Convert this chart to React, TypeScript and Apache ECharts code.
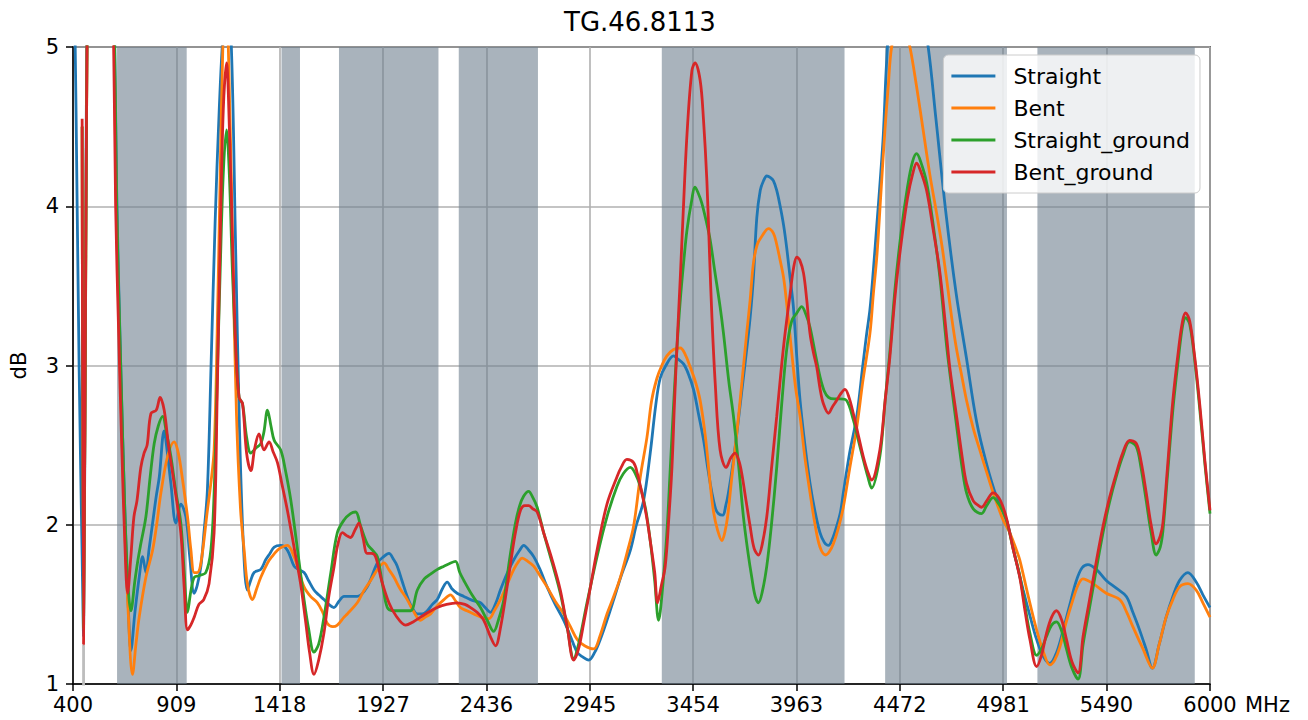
import React, { useEffect, useRef } from 'react';
import * as echarts from 'echarts';

const titleText = 'TG.46.8113';
const seriesNames = ['Straight', 'Bent', 'Straight_ground', 'Bent_ground'];
const seriesColors = ['#1f77b4', '#ff7f0e', '#2ca02c', '#d62728'];
const xTicks = [400, 909, 1418, 1927, 2436, 2945, 3454, 3963, 4472, 4981, 5490, 6000];
const bands = [[617, 960], [1427, 1518], [1710, 2200], [2300, 2690], [3300, 4200], [4400, 5000], [5150, 5925]];
const stubData = [[452, 1.25], [452, 0.8]];

const straight = [[400,6.0],[415,4.6],[430,3.0],[445,1.8],[452,1.3],[460,3.0],[470,5.5],[490,7.0],[560,7.5],[600,5.5],[615,4.1],[635,3.0],[655,2.1],[672,1.5],[685,1.21],[705,1.45],[726,1.67],[743,1.80],[759,1.70],[775,1.85],[792,2.01],[810,2.18],[825,2.30],[849,2.59],[865,2.45],[882,2.26],[907,2.01],[931,2.13],[956,2.05],[975,1.80],[997,1.57],[1012,1.62],[1030,1.74],[1045,1.95],[1062,2.22],[1080,3.0],[1100,3.9],[1120,4.6],[1140,5.1],[1160,5.3],[1180,5.0],[1200,3.8],[1220,2.6],[1240,1.85],[1259,1.59],[1275,1.65],[1292,1.70],[1325,1.72],[1349,1.78],[1370,1.82],[1391,1.86],[1423,1.87],[1456,1.84],[1489,1.74],[1510,1.72],[1538,1.70],[1560,1.65],[1587,1.59],[1610,1.56],[1636,1.53],[1660,1.50],[1685,1.48],[1710,1.52],[1735,1.55],[1767,1.55],[1800,1.55],[1849,1.61],[1899,1.76],[1930,1.80],[1956,1.82],[1980,1.78],[1997,1.74],[2020,1.65],[2046,1.55],[2070,1.48],[2096,1.44],[2120,1.44],[2145,1.46],[2170,1.50],[2194,1.53],[2220,1.60],[2243,1.64],[2265,1.60],[2292,1.57],[2325,1.55],[2358,1.53],[2380,1.52],[2407,1.51],[2430,1.48],[2456,1.45],[2480,1.50],[2505,1.59],[2540,1.70],[2571,1.78],[2600,1.84],[2620,1.87],[2645,1.84],[2669,1.80],[2700,1.72],[2735,1.61],[2775,1.50],[2817,1.40],[2850,1.30],[2883,1.20],[2910,1.17],[2940,1.15],[2970,1.20],[2997,1.28],[3030,1.40],[3063,1.53],[3100,1.68],[3145,1.84],[3175,2.0],[3210,2.15],[3243,2.45],[3270,2.75],[3292,2.92],[3320,3.0],[3358,3.06],[3380,3.04],[3407,3.01],[3430,2.95],[3456,2.85],[3480,2.70],[3506,2.53],[3527,2.35],[3547,2.20],[3565,2.10],[3579,2.07],[3600,2.06],[3615,2.12],[3628,2.20],[3650,2.38],[3669,2.57],[3695,2.85],[3718,3.10],[3735,3.30],[3751,3.55],[3768,3.93],[3785,4.10],[3801,4.16],[3817,4.19],[3835,4.18],[3850,4.16],[3866,4.10],[3883,4.00],[3900,3.88],[3915,3.74],[3932,3.55],[3948,3.37],[3965,3.05],[3981,2.78],[4005,2.50],[4030,2.26],[4055,2.08],[4079,1.95],[4100,1.89],[4121,1.87],[4140,1.91],[4161,1.99],[4180,2.08],[4194,2.20],[4225,2.45],[4260,2.68],[4290,3.0],[4309,3.2],[4325,3.35],[4342,3.6],[4360,3.9],[4375,4.15],[4391,4.45],[4407,4.9],[4430,5.3],[4470,5.5],[4520,5.5],[4570,5.3],[4612,5.0],[4650,4.55],[4700,3.95],[4750,3.45],[4800,3.05],[4850,2.65],[4900,2.38],[4950,2.17],[5000,2.02],[5040,1.80],[5080,1.59],[5115,1.42],[5146,1.28],[5180,1.17],[5211,1.13],[5245,1.20],[5277,1.34],[5310,1.50],[5342,1.65],[5370,1.73],[5399,1.75],[5440,1.72],[5489,1.65],[5540,1.60],[5588,1.55],[5620,1.45],[5653,1.34],[5685,1.22],[5716,1.10],[5750,1.25],[5784,1.42],[5817,1.55],[5850,1.65],[5891,1.70],[5932,1.64],[5965,1.56],[6000,1.48]];

const bent = [[445,4.5],[452,1.35],[462,3.4],[472,5.5],[490,7.0],[560,7.5],[598,5.5],[612,4.1],[632,3.0],[652,2.1],[672,1.45],[693,1.06],[710,1.25],[726,1.42],[759,1.67],[792,1.84],[812,2.0],[833,2.20],[866,2.43],[898,2.52],[915,2.47],[931,2.36],[964,2.05],[980,1.85],[997,1.70],[1012,1.70],[1030,1.76],[1062,2.09],[1078,2.25],[1095,2.47],[1110,3.2],[1125,4.2],[1138,5.0],[1150,5.3],[1165,5.0],[1185,3.8],[1205,2.7],[1225,2.1],[1243,1.84],[1260,1.62],[1284,1.53],[1305,1.60],[1325,1.67],[1358,1.76],[1380,1.80],[1407,1.84],[1430,1.86],[1456,1.87],[1489,1.80],[1510,1.72],[1538,1.61],[1570,1.55],[1604,1.51],[1630,1.45],[1653,1.38],[1680,1.36],[1702,1.37],[1735,1.42],[1751,1.44],[1800,1.51],[1830,1.58],[1866,1.65],[1900,1.72],[1932,1.76],[1955,1.72],[1981,1.67],[2010,1.60],[2046,1.53],[2080,1.45],[2112,1.40],[2135,1.42],[2161,1.44],[2194,1.49],[2227,1.53],[2259,1.56],[2285,1.52],[2308,1.48],[2340,1.46],[2374,1.44],[2410,1.42],[2448,1.41],[2475,1.46],[2505,1.53],[2540,1.63],[2571,1.72],[2595,1.77],[2612,1.79],[2640,1.77],[2669,1.74],[2700,1.68],[2735,1.61],[2775,1.52],[2817,1.44],[2850,1.36],[2883,1.28],[2920,1.24],[2964,1.22],[2995,1.30],[3030,1.44],[3063,1.55],[3096,1.67],[3130,1.83],[3161,1.99],[3194,2.3],[3227,2.55],[3250,2.78],[3276,2.92],[3300,3.0],[3325,3.06],[3358,3.10],[3391,3.11],[3415,3.07],[3440,2.99],[3465,2.90],[3489,2.78],[3515,2.55],[3538,2.26],[3555,2.08],[3574,1.97],[3596,1.90],[3610,1.95],[3624,2.05],[3645,2.30],[3669,2.57],[3695,2.90],[3718,3.20],[3735,3.41],[3751,3.64],[3770,3.76],[3792,3.81],[3825,3.86],[3850,3.83],[3866,3.76],[3883,3.66],[3900,3.55],[3915,3.39],[3940,3.08],[3960,2.85],[3981,2.68],[4005,2.42],[4030,2.20],[4055,2.00],[4079,1.86],[4107,1.81],[4125,1.83],[4145,1.88],[4170,1.98],[4194,2.11],[4225,2.35],[4260,2.61],[4290,2.90],[4325,3.20],[4342,3.45],[4360,3.7],[4380,4.1],[4399,4.48],[4415,4.75],[4432,5.0],[4475,5.25],[4522,5.0],[4555,4.75],[4587,4.48],[4620,4.2],[4653,3.96],[4680,3.75],[4703,3.54],[4730,3.28],[4752,3.10],[4775,2.95],[4801,2.78],[4835,2.6],[4866,2.47],[4900,2.33],[4932,2.20],[4960,2.10],[4981,2.03],[5014,1.95],[5047,1.84],[5063,1.78],[5105,1.55],[5146,1.34],[5180,1.20],[5211,1.12],[5235,1.15],[5260,1.23],[5290,1.38],[5325,1.53],[5350,1.62],[5374,1.66],[5424,1.63],[5489,1.57],[5555,1.53],[5590,1.45],[5620,1.36],[5670,1.22],[5716,1.10],[5750,1.25],[5784,1.42],[5817,1.53],[5850,1.61],[5891,1.63],[5932,1.59],[5965,1.51],[6000,1.42]];

const straightGround = [[445,4.5],[452,1.35],[462,3.4],[472,5.5],[490,7.0],[560,7.5],[600,5.5],[615,4.0],[635,3.0],[655,2.1],[672,1.6],[685,1.46],[705,1.65],[720,1.78],[734,1.88],[759,2.05],[780,2.3],[800,2.51],[820,2.62],[841,2.68],[860,2.58],[882,2.43],[905,2.22],[931,2.01],[948,1.70],[964,1.45],[980,1.58],[997,1.67],[1020,1.68],[1054,1.70],[1079,1.84],[1095,2.2],[1110,2.9],[1125,3.6],[1140,4.2],[1156,4.48],[1170,4.2],[1185,3.6],[1202,3.1],[1218,2.80],[1235,2.76],[1255,2.55],[1276,2.45],[1300,2.48],[1325,2.51],[1340,2.58],[1358,2.72],[1375,2.62],[1391,2.53],[1423,2.47],[1445,2.35],[1472,2.16],[1500,1.90],[1538,1.53],[1560,1.35],[1587,1.20],[1610,1.25],[1636,1.42],[1670,1.70],[1702,1.95],[1735,2.03],[1767,2.07],[1792,2.08],[1817,1.99],[1849,1.88],[1875,1.84],[1899,1.80],[1925,1.62],[1948,1.48],[1975,1.46],[2000,1.46],[2030,1.46],[2063,1.46],[2096,1.59],[2130,1.66],[2161,1.69],[2195,1.72],[2227,1.74],[2260,1.76],[2284,1.77],[2305,1.70],[2325,1.65],[2365,1.56],[2407,1.48],[2440,1.40],[2472,1.33],[2495,1.40],[2522,1.53],[2550,1.78],[2579,2.01],[2600,2.12],[2620,2.18],[2644,2.21],[2665,2.17],[2686,2.11],[2718,1.95],[2760,1.76],[2800,1.57],[2835,1.35],[2866,1.16],[2890,1.25],[2930,1.50],[2981,1.80],[3030,2.05],[3079,2.24],[3110,2.32],[3145,2.36],[3170,2.32],[3194,2.24],[3220,2.10],[3243,1.90],[3265,1.65],[3284,1.40],[3305,1.62],[3325,1.95],[3342,2.36],[3358,2.75],[3374,3.10],[3391,3.41],[3410,3.68],[3424,3.85],[3445,4.02],[3464,4.12],[3480,4.08],[3497,4.02],[3520,3.90],[3538,3.79],[3560,3.60],[3587,3.37],[3604,3.20],[3630,2.90],[3653,2.68],[3680,2.35],[3702,2.05],[3725,1.82],[3743,1.67],[3760,1.55],[3776,1.51],[3795,1.58],[3817,1.74],[3840,2.00],[3866,2.36],[3890,2.75],[3915,3.10],[3940,3.28],[3965,3.33],[3989,3.37],[4010,3.32],[4030,3.24],[4055,3.08],[4079,2.93],[4100,2.84],[4121,2.80],[4150,2.79],[4178,2.79],[4210,2.78],[4243,2.66],[4270,2.52],[4292,2.41],[4315,2.30],[4333,2.23],[4374,2.43],[4400,2.78],[4423,3.08],[4450,3.5],[4480,3.85],[4510,4.12],[4535,4.28],[4555,4.33],[4575,4.28],[4604,4.15],[4637,3.88],[4670,3.55],[4703,3.12],[4719,2.95],[4752,2.62],[4780,2.35],[4801,2.20],[4834,2.10],[4875,2.07],[4900,2.12],[4932,2.17],[4960,2.13],[4981,2.08],[5000,2.02],[5030,1.85],[5063,1.68],[5090,1.48],[5113,1.32],[5146,1.18],[5170,1.22],[5195,1.30],[5220,1.37],[5244,1.39],[5270,1.33],[5293,1.22],[5320,1.10],[5350,1.03],[5375,1.25],[5407,1.48],[5440,1.72],[5473,1.95],[5505,2.14],[5538,2.30],[5570,2.43],[5604,2.52],[5637,2.49],[5660,2.36],[5686,2.15],[5710,1.95],[5735,1.81],[5755,1.86],[5768,1.96],[5790,2.30],[5817,2.72],[5845,3.05],[5865,3.25],[5880,3.30],[5900,3.26],[5925,3.03],[5950,2.72],[5975,2.38],[6000,2.07]];

const bentGround = [[445,4.55],[452,1.25],[462,3.5],[472,5.5],[490,7.0],[560,7.5],[595,5.5],[610,4.0],[625,3.2],[640,2.5],[655,1.9],[669,1.57],[685,1.8],[700,2.05],[715,2.15],[734,2.36],[750,2.45],[765,2.5],[784,2.70],[810,2.72],[829,2.80],[849,2.72],[870,2.50],[898,2.26],[931,1.95],[948,1.60],[964,1.34],[980,1.37],[997,1.42],[1020,1.50],[1044,1.53],[1070,1.63],[1095,1.95],[1110,2.8],[1125,3.8],[1140,4.6],[1156,4.9],[1170,4.5],[1185,3.8],[1202,3.10],[1218,2.80],[1235,2.76],[1255,2.45],[1276,2.34],[1295,2.48],[1316,2.57],[1341,2.47],[1366,2.52],[1385,2.46],[1407,2.39],[1430,2.25],[1456,2.09],[1490,1.85],[1521,1.63],[1545,1.40],[1565,1.20],[1587,1.06],[1610,1.15],[1636,1.32],[1660,1.55],[1685,1.73],[1705,1.88],[1727,1.95],[1750,1.93],[1767,1.92],[1790,1.97],[1808,2.01],[1828,1.92],[1849,1.82],[1870,1.82],[1890,1.80],[1920,1.65],[1956,1.51],[1990,1.43],[2038,1.37],[2075,1.39],[2112,1.42],[2150,1.45],[2194,1.48],[2240,1.50],[2292,1.51],[2330,1.50],[2358,1.48],[2390,1.45],[2423,1.40],[2455,1.30],[2481,1.24],[2505,1.35],[2538,1.61],[2560,1.80],[2579,1.95],[2604,2.09],[2625,2.12],[2644,2.12],[2665,2.10],[2686,2.08],[2718,1.95],[2760,1.78],[2800,1.59],[2835,1.35],[2866,1.15],[2890,1.22],[2915,1.38],[2950,1.62],[2981,1.84],[3030,2.13],[3079,2.30],[3100,2.36],[3128,2.41],[3161,2.39],[3180,2.32],[3202,2.20],[3225,2.05],[3243,1.90],[3265,1.70],[3279,1.51],[3298,1.62],[3317,1.74],[3335,2.05],[3350,2.36],[3362,2.75],[3374,3.10],[3391,3.55],[3405,3.95],[3424,4.45],[3448,4.85],[3464,4.90],[3489,4.79],[3505,4.55],[3522,4.16],[3535,3.7],[3547,3.30],[3563,2.89],[3587,2.47],[3617,2.36],[3640,2.42],[3661,2.45],[3680,2.40],[3694,2.32],[3715,2.15],[3735,1.99],[3755,1.85],[3776,1.81],[3795,1.88],[3817,2.05],[3840,2.35],[3866,2.68],[3890,3.00],[3907,3.20],[3932,3.45],[3950,3.62],[3965,3.68],[3980,3.66],[3998,3.58],[4014,3.41],[4030,3.20],[4047,3.08],[4063,2.99],[4080,2.85],[4096,2.76],[4121,2.70],[4140,2.74],[4161,2.78],[4180,2.82],[4202,2.85],[4222,2.80],[4243,2.70],[4270,2.55],[4292,2.43],[4315,2.33],[4333,2.28],[4374,2.47],[4400,2.78],[4423,3.05],[4450,3.45],[4480,3.78],[4510,4.05],[4535,4.2],[4555,4.27],[4575,4.22],[4604,4.10],[4637,3.85],[4670,3.58],[4703,3.18],[4719,2.98],[4752,2.68],[4780,2.42],[4801,2.26],[4834,2.15],[4860,2.12],[4875,2.11],[4900,2.15],[4932,2.20],[4960,2.17],[4981,2.11],[5000,2.03],[5030,1.85],[5063,1.67],[5090,1.45],[5113,1.28],[5146,1.11],[5170,1.18],[5195,1.32],[5220,1.42],[5244,1.46],[5270,1.40],[5293,1.28],[5320,1.14],[5350,1.07],[5375,1.30],[5407,1.53],[5440,1.77],[5473,1.99],[5505,2.17],[5538,2.32],[5570,2.45],[5604,2.53],[5637,2.51],[5660,2.40],[5686,2.20],[5710,2.0],[5735,1.88],[5755,1.93],[5768,2.01],[5790,2.35],[5817,2.78],[5845,3.10],[5865,3.28],[5880,3.33],[5900,3.28],[5925,3.05],[5950,2.75],[5975,2.40],[6000,2.09]];

const FONT = 'DejaVu Sans';

export default function App() {
  const ref = useRef<HTMLDivElement>(null);
  useEffect(() => {
    if (!ref.current) return;
    const chart = echarts.init(ref.current, undefined, { renderer: 'svg' });
    const datasets = [straight, bent, straightGround, bentGround];
    const lineSeries = datasets.map((d, i) => ({
      type: 'line',
      name: seriesNames[i],
      data: d,
      showSymbol: false,
      smooth: 0.35,
      clip: true,
      z: 3 + i,
      lineStyle: { color: seriesColors[i], width: 2.8 },
      itemStyle: { color: seriesColors[i] },
      ...(i === 0
        ? {
            markArea: {
              silent: true,
              z: 1,
              itemStyle: { color: 'rgba(112,128,144,0.6)' },
              data: bands.map((b) => [{ xAxis: b[0] }, { xAxis: b[1] }]),
            },
          }
        : {}),
    }));
    chart.setOption({
      animation: false,
      backgroundColor: '#ffffff',
      title: {
        text: titleText,
        left: 564,
        top: 9,
        padding: 0,
        textStyle: { fontFamily: FONT, fontSize: 26, fontWeight: 'normal', color: '#000' },
      },
      legend: {
        data: seriesNames,
        orient: 'vertical',
        right: 108,
        top: 55,
        icon: 'rect',
        itemWidth: 44,
        itemHeight: 3,
        itemGap: 10,
        padding: [10, 10, 10, 8],
        backgroundColor: 'rgba(255,255,255,0.8)',
        borderColor: '#cccccc',
        borderWidth: 1,
        borderRadius: 5,
        z: 10,
        textStyle: { fontFamily: FONT, fontSize: 22, color: '#000', padding: [0, 0, 0, 13] },
      },
      grid: {
        left: 68,
        right: 98,
        top: 47,
        bottom: 36,
        show: true,
        borderColor: '#000',
        borderWidth: 1.5,
        backgroundColor: 'transparent',
      },
      xAxis: {
        type: 'value',
        min: 400,
        max: 6000,
        name: 'MHz',
        nameLocation: 'end',
        nameGap: 35,
        nameTextStyle: { fontFamily: FONT, fontSize: 21, color: '#000', align: 'left', verticalAlign: 'top', padding: [10, 0, 0, 0] },
        axisLine: { show: true, onZero: false, lineStyle: { color: '#000', width: 1.5 } },
        axisTick: { show: true, length: 7, customValues: xTicks, lineStyle: { color: '#000', width: 1.5 } },
        axisLabel: {
          customValues: xTicks,
          fontFamily: FONT,
          fontSize: 21,
          color: '#000',
          margin: 10,
          formatter: (v: number) => String(Math.round(v)),
        },
        splitLine: { show: true, lineStyle: { color: '#b0b0b0', width: 1.6 } },
      },
      yAxis: {
        type: 'value',
        min: 1,
        max: 5,
        interval: 1,
        name: 'dB',
        nameLocation: 'middle',
        nameGap: 44,
        nameTextStyle: { fontFamily: FONT, fontSize: 21, color: '#000' },
        axisLine: { show: true, lineStyle: { color: '#000', width: 1.5 } },
        axisTick: { show: true, length: 7, lineStyle: { color: '#000', width: 1.5 } },
        axisLabel: { fontFamily: FONT, fontSize: 21, color: '#000', margin: 14 },
        splitLine: { show: true, lineStyle: { color: '#b0b0b0', width: 1.6 } },
      },
      series: [
        {
          type: 'line',
          name: 'stub',
          data: stubData,
          showSymbol: false,
          silent: true,
          z: 2,
          lineStyle: { color: '#bdbdbd', width: 2.8 },
          itemStyle: { color: '#bdbdbd' },
        },
        ...lineSeries,
      ],
    });
    return () => chart.dispose();
  }, []);
  return <div ref={ref} style={{ position: 'fixed', left: 0, top: 0, width: 1308, height: 720 }} />;
}
